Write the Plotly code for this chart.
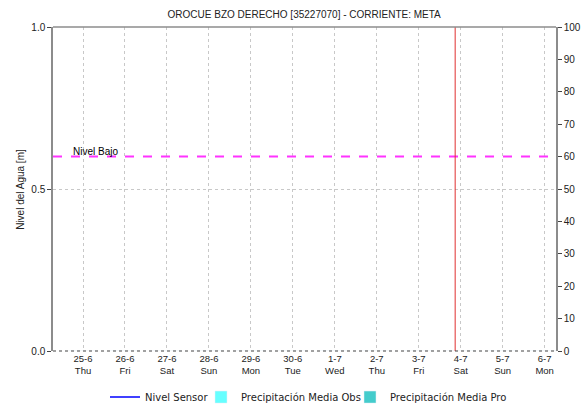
import plotly.graph_objects as go

# datos de la estacion
titulo = 'OROCUE BZO DERECHO [35227070] - CORRIENTE: META'
dias = ['2020-06-25', '2020-06-26', '2020-06-27', '2020-06-28', '2020-06-29', '2020-06-30',
        '2020-07-01', '2020-07-02', '2020-07-03', '2020-07-04', '2020-07-05', '2020-07-06']
etiquetas_dias = ['25-6<br>Thu', '26-6<br>Fri', '27-6<br>Sat', '28-6<br>Sun', '29-6<br>Mon', '30-6<br>Tue',
                  '1-7<br>Wed', '2-7<br>Thu', '3-7<br>Fri', '4-7<br>Sat', '5-7<br>Sun', '6-7<br>Mon']
rango_fechas = ['2020-06-24 06:50', '2020-07-06 06:30']

# sin datos del sensor en el periodo
fechas_sensor = [None]
nivel_sensor = [None]

# precipitacion media (mm) por dia
precip_obs = [0, 0, 0, 0, 0, 0, 0, 0, 0]
precip_pro = [0, 0, 0]

nivel_bajo = 0.6
hora_actual = '2020-07-03 20:50'

fuente = 'Liberation Sans'
gris = '#8c8c8c'

fig = go.Figure()
fig.add_trace(go.Scatter(x=fechas_sensor, y=nivel_sensor, mode='lines', name='Nivel Sensor',
                         line=dict(color='#0000ff', width=1.5), legend='legend'))
fig.add_trace(go.Bar(x=dias[:len(precip_obs)], y=precip_obs, name='Precipitación Media Obs',
                     marker_color='#66ffff', yaxis='y2', legend='legend2'))
fig.add_trace(go.Bar(x=dias[len(precip_obs):], y=precip_pro, name='Precipitación Media Pro',
                     marker_color='#44cccc', yaxis='y2', legend='legend3'))

# nivel bajo
fig.add_shape(type='line', xref='paper', x0=0, x1=1, yref='y', y0=nivel_bajo, y1=nivel_bajo,
              line=dict(color='#ff33ff', width=2, dash='dash'))
fig.add_annotation(x='2020-06-24 17:20', y=nivel_bajo, text='Nivel Bajo', showarrow=False,
                   xanchor='left', yanchor='bottom', yshift=-2, font=dict(size=10, color='#000'))
# hora actual
fig.add_shape(type='line', xref='x', x0=hora_actual, x1=hora_actual, yref='paper', y0=0, y1=1,
              line=dict(color='#e03030', width=1))
# bordes superior e inferior
fig.add_shape(type='line', xref='paper', x0=0, x1=1, yref='paper', y0=1, y1=1,
              line=dict(color=gris, width=1.5))
fig.add_shape(type='line', xref='paper', x0=0, x1=1, yref='paper', y0=0, y1=0,
              line=dict(color='#444', width=1.2, dash='dot'))

# titulos de los ejes
fig.add_annotation(xref='paper', yref='paper', x=-0.051, y=0.5, text='Nivel del Agua [m]',
                   textangle=-90, showarrow=False, xanchor='right', yanchor='middle',
                   font=dict(size=10, color='#222'))
fig.add_annotation(xref='paper', yref='paper', x=1.0536, y=0.5, text='Precipitación [mm]',
                   textangle=-90, showarrow=False, xanchor='left', yanchor='middle',
                   font=dict(size=10, color='#222'))

ley = dict(orientation='h', xref='container', yref='container', xanchor='left',
           y=0.022, yanchor='middle', bgcolor='rgba(0,0,0,0)',
           font=dict(family='DejaVu Sans', size=10, color='#222'))

fig.update_layout(
    width=585, height=406,
    margin=dict(l=53, r=29, t=27, b=55, autoexpand=False),
    paper_bgcolor='white', plot_bgcolor='white',
    font=dict(family=fuente, size=10, color='#222'),
    title=dict(text=titulo, x=0.52, xanchor='center', y=0.965, yanchor='middle',
               font=dict(size=10, color='#222')),
    showlegend=True,
    legend=dict(ley, x=105 / 585),
    legend2=dict(ley, x=201 / 585),
    legend3=dict(ley, x=350 / 585),
    xaxis=dict(type='date', range=rango_fechas, tickvals=dias, ticktext=etiquetas_dias,
               showgrid=True, gridcolor='#c8c8c8', griddash='dot', gridwidth=1, automargin=False,
               ticks='', showline=False, zeroline=False, tickfont=dict(size=9.5, color='#222')),
    yaxis=dict(range=[0, 1], tickvals=[0, 0.5, 1.0], tickformat='.1f', automargin=False,
               showgrid=True, gridcolor='#c8c8c8', griddash='dot', zeroline=False,
               showline=True, linecolor=gris, linewidth=1.5, ticks='outside', ticklen=4,
               tickcolor='#444'),
    yaxis2=dict(range=[0, 100], dtick=10, overlaying='y', side='right', showgrid=False,
                zeroline=False, showline=True, linecolor=gris, linewidth=1.5, automargin=False,
                ticks='outside', ticklen=4, tickcolor='#444'),
    bargap=0.3,
)

# quitar el margen del body para que la figura quede en la esquina
fig.write_html('out.html', config={'displayModeBar': False},
               post_script="document.body.style.margin='0';")
